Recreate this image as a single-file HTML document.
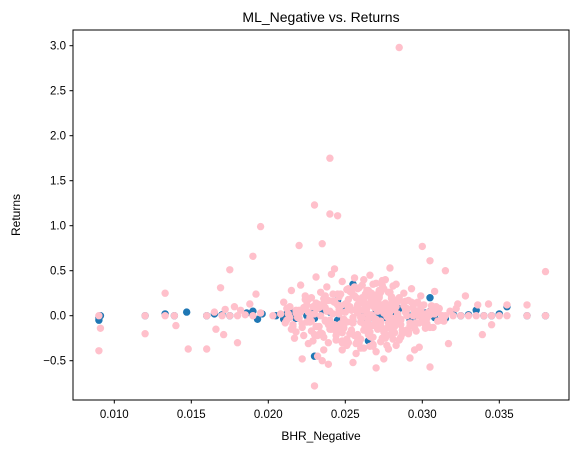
<!DOCTYPE html>
<html><head><meta charset="utf-8"><style>
html,body{margin:0;padding:0;background:#fff;}
svg{display:block;font-family:"Liberation Sans","DejaVu Sans",sans-serif;}
</style></head><body>
<svg id="chart" width="579" height="453">
<text x="321" y="22" font-size="14" text-anchor="middle">ML_Negative vs. Returns</text>
<text x="321" y="440" font-size="12" text-anchor="middle">BHR_Negative</text>
<text transform="translate(20,215) rotate(-90)" font-size="12" text-anchor="middle">Returns</text>
<g id="marks"></g>
<g id="axes"></g>
</svg>
<script>
const xTicks=[0.010,0.015,0.020,0.025,0.030,0.035];
const xTickLabels=["0.010","0.015","0.020","0.025","0.030","0.035"];
const yTicks=[-0.5,0.0,0.5,1.0,1.5,2.0,2.5,3.0];
const yTickLabels=["\u22120.5","0.0","0.5","1.0","1.5","2.0","2.5","3.0"];
const blueX=[0.009,0.009,0.0091,0.012,0.0133,0.0139,0.0147,0.016,0.0165,0.017,0.0175,0.0186,0.019,0.0193,0.0196,0.0205,0.021,0.0215,0.022,0.0225,0.023,0.0235,0.024,0.0245,0.0245,0.025,0.0255,0.0255,0.026,0.0265,0.027,0.0275,0.028,0.0285,0.029,0.0295,0.03,0.0305,0.0305,0.031,0.0315,0.032,0.0325,0.033,0.0335,0.034,0.0345,0.035,0.0355,0.0368,0.038,0.023,0.0265,0.0285,0.0212,0.0218,0.0228,0.0262,0.0272,0.0292,0.0302,0.0308];
const blueY=[-0.05,-0.02,0.0,0.0,0.02,0.0,0.04,0.0,0.02,0.01,0.0,0.03,0.05,-0.04,0.02,0.0,-0.04,0.03,0.05,0.0,-0.03,0.06,0.04,0.17,-0.05,0.05,0.35,-0.06,0.03,-0.04,0.06,-0.02,0.04,-0.05,0.03,0.0,-0.06,0.2,0.05,0.04,-0.03,0.02,0.0,0.01,0.06,0.0,0.0,0.02,0.1,0.0,0.0,-0.45,-0.28,0.08,0.02,-0.03,0.03,-0.02,0.02,-0.04,0.03,-0.02];
const pinkX=[0.0285,0.024,0.024,0.023,0.0245,0.0195,0.022,0.0235,0.03,0.019,0.0175,0.0133,0.038,0.0305,0.0315,0.009,0.009,0.0091,0.012,0.014,0.0148,0.016,0.023,0.027,0.0305,0.0222,0.0232,0.0235,0.0239,0.0255,0.0275,0.0295,0.0298,0.0292,0.0339,0.0345,0.0317,0.018,0.0171,0.0166,
0.012,0.0133,0.0139,0.016,0.0165,0.017,0.0175,0.018,0.0185,0.019,0.0195,0.0315,0.032,0.0325,0.033,0.0335,0.034,0.0345,0.035,0.0355,0.0368,0.038,0.0368,0.0355,0.0343,0.0328,0.0323,0.0311,0.0336,0.0169,0.0188,0.0192,0.0203,0.0178,0.0172,0.0182,
0.021,0.0212,0.0215,0.0218,0.022,0.0221,0.0223,0.0225,0.0226,0.0228,0.023,0.0231,0.0233,0.0234,0.0236,0.0237,0.0238,0.024,0.0241,0.0243,0.0244,0.0246,0.0247,0.0248,0.025,0.0251,0.0252,0.0253,0.0254,0.0256,0.0257,0.0258,0.0259,0.026,0.0261,0.0262,0.0263,0.0264,0.0265,0.0266,0.0267,0.0268,0.0269,0.027,0.0271,0.0272,0.0273,0.0274,0.0276,0.0277,0.0278,0.0279,0.028,0.0281,0.0282,0.0283,0.0285,0.0286,0.0288,0.029,0.0291,0.0293,0.0295,0.0297,0.0299,0.0301,0.0303,0.0306,0.0308,0.031,
0.0211,0.0214,0.0217,0.0219,0.0222,0.0224,0.0227,0.0229,0.0232,0.0234,0.0236,0.0239,0.0242,0.0244,0.0247,0.0249,0.0251,0.0253,0.0255,0.0257,0.0259,0.0261,0.0263,0.0265,0.0267,0.0269,0.0271,0.0273,0.0275,0.0277,0.0279,0.0281,0.0283,0.0285,0.0287,0.0289,0.0292,0.0294,0.0296,0.0298,0.0302,0.0305,0.0307,0.0309,0.0312,
0.0213,0.0216,0.022,0.0224,0.0228,0.0231,0.0235,0.0238,0.0241,0.0245,0.0248,0.0251,0.0254,0.0256,0.0259,0.0262,0.0264,0.0266,0.0268,0.027,0.0272,0.0274,0.0276,0.0278,0.028,0.0282,0.0284,0.0287,0.029,0.0293,0.0296,0.03,0.0304,0.0308,
0.0215,0.0219,0.0223,0.0227,0.0231,0.0234,0.0237,0.024,0.0243,0.0246,0.0249,0.0252,0.0255,0.0258,0.026,0.0263,0.0265,0.0267,0.0269,0.0271,0.0273,0.0275,0.0277,0.0279,0.0281,0.0284,0.0286,0.0289,0.0292,0.0295,0.0299,0.0303,
0.0208,0.0218,0.0226,0.0233,0.0242,0.0248,0.0254,0.026,0.0264,0.0268,0.0272,0.0276,0.028,0.0285,0.029,0.0297,0.0304,0.0243,0.0257,0.0262,0.027,0.0274,0.0279,0.0252,0.0266,0.0258,0.0269,0.0247,0.0237,0.0283,
0.0212,0.0216,0.0221,0.0225,0.0229,0.0232,0.0236,0.0239,0.0242,0.0244,0.0246,0.0248,0.025,0.0252,0.0253,0.0255,0.0257,0.0258,0.026,0.0261,0.0263,0.0264,0.0266,0.0267,0.0268,0.027,0.0271,0.0273,0.0274,0.0276,0.0277,0.0279,0.028,0.0282,0.0284,0.0286,0.0288,0.029,0.0293,0.0296,0.0299,0.0302,0.0306,0.031,0.0314,0.0318,0.0322,
0.0214,0.0218,0.0222,0.0226,0.023,0.0233,0.0237,0.024,0.0243,0.0245,0.0247,0.0249,0.0251,0.0254,0.0256,0.0259,0.0262,0.0265,0.0267,0.0269,0.0272,0.0275,0.0278,0.0281,0.0283,0.0286,0.0289,0.0291,0.0294,0.0298,0.0301,0.0305,0.0309,0.0313,
0.0224,0.0228,0.0232,0.0236,0.0239,0.0242,0.0245,0.0248,0.0251,0.0253,0.0256,0.0258,0.0261,0.0263,0.0265,0.0268,0.027,0.0272,0.0275,0.0277,0.0279,0.0282,0.0285,0.0288,0.0291,0.0295,0.0299,0.0303,
0.0246,0.0249,0.0252,0.0255,0.0258,0.0261,0.0264,0.0267,0.027,0.0273,0.0276,0.0279,0.0282,0.0285,0.0254,0.0262,0.0268,0.0274,0.0248,0.0278];
const pinkY=[2.98,1.75,1.13,1.23,1.11,0.99,0.78,0.8,0.77,0.66,0.51,0.25,0.49,0.61,0.5,0.0,-0.39,-0.14,-0.2,-0.11,-0.37,-0.37,-0.78,-0.58,-0.57,-0.48,-0.45,-0.5,-0.54,-0.52,-0.48,-0.38,-0.35,-0.47,-0.21,-0.1,-0.31,-0.3,-0.21,-0.15,
0.0,0.0,0.0,0.0,0.04,0.0,0.0,0.0,0.01,0.0,0.03,0.0,0.0,0.0,0.0,0.0,0.0,0.0,0.0,0.0,0.0,0.0,0.12,0.12,0.13,0.22,0.13,0.08,0.12,0.31,0.13,0.24,0.0,0.1,0.07,0.06,
0.15,-0.05,0.28,-0.18,0.06,0.34,-0.22,0.12,-0.31,0.2,0.02,0.43,-0.12,0.26,-0.38,0.09,0.32,-0.05,0.46,0.15,-0.27,0.21,-0.09,0.38,0.04,-0.33,0.18,0.27,-0.16,0.42,0.07,-0.21,0.31,-0.02,0.14,-0.36,0.24,0.03,-0.11,0.45,0.19,-0.24,0.09,0.36,-0.07,0.22,-0.29,0.12,0.4,-0.14,0.26,0.05,-0.2,0.33,0.1,-0.33,0.17,-0.04,0.25,0.08,-0.18,0.3,-0.09,0.15,0.22,0.02,-0.12,0.11,0.27,-0.06,
-0.08,0.1,-0.25,0.05,-0.13,0.18,-0.02,-0.28,0.08,-0.19,0.14,-0.3,0.02,-0.22,0.11,-0.14,-0.26,0.1,-0.08,0.2,-0.3,0.06,-0.16,0.13,-0.24,-0.03,0.16,-0.12,0.07,-0.22,0.04,-0.15,0.13,-0.07,-0.2,0.08,-0.11,0.0,-0.17,0.06,-0.1,0.01,-0.13,0.09,-0.05,
0.02,-0.1,-0.03,0.08,-0.17,0.14,-0.2,0.05,-0.15,0.12,-0.19,-0.07,0.06,-0.22,0.16,-0.09,0.03,-0.18,0.11,-0.04,0.09,-0.14,0.04,-0.08,0.13,-0.12,0.02,-0.16,0.06,-0.1,0.14,-0.06,0.04,0.02,
-0.15,-0.02,0.09,-0.07,-0.12,0.0,-0.06,0.05,-0.1,0.02,-0.13,0.07,-0.02,0.03,-0.07,0.1,-0.04,0.01,-0.09,0.05,-0.06,0.03,-0.01,0.07,-0.03,0.0,-0.05,0.04,-0.08,0.05,0.0,-0.03,
0.02,0.06,0.04,0.12,0.16,-0.1,0.26,-0.36,0.22,-0.32,0.28,-0.25,0.19,-0.27,0.0,0.0,0.0,0.52,-0.42,0.4,-0.4,0.39,0.53,-0.3,-0.34,0.3,0.12,-0.12,0.22,0.35,
0.08,-0.12,0.04,-0.07,0.1,-0.22,0.19,-0.1,0.24,-0.17,0.07,-0.28,0.13,0.3,-0.2,0.23,-0.31,0.11,-0.26,0.34,-0.13,0.28,-0.23,0.17,-0.34,0.2,-0.15,0.26,-0.25,0.14,-0.33,0.09,0.21,-0.19,0.18,-0.24,0.11,-0.16,0.15,-0.08,0.07,-0.14,0.06,0.04,-0.06,0.05,0.08,
-0.02,0.03,-0.09,0.18,-0.21,0.09,-0.05,-0.15,0.16,-0.11,0.24,-0.04,0.29,-0.07,0.22,-0.27,0.18,-0.21,0.25,-0.11,0.2,-0.18,0.12,-0.26,0.1,-0.1,0.16,-0.2,0.09,-0.08,0.12,-0.13,0.1,0.0,
0.22,-0.06,0.13,-0.24,0.17,-0.1,0.24,-0.3,0.14,-0.2,0.32,-0.28,0.2,-0.16,0.28,-0.32,0.23,-0.12,0.3,-0.22,0.26,-0.08,0.2,-0.18,0.17,-0.14,0.11,-0.09,
0.06,-0.04,0.1,-0.06,0.12,-0.02,0.08,-0.11,0.14,-0.08,0.03,-0.13,0.07,-0.05,-0.18,-0.16,0.35,0.34,-0.38,-0.37];
const X0=0.010,XPX0=114.3,XS=15400,Y0PX=315.7,YS=90;
function xs(v){return XPX0+(v-X0)*XS;}
function ys(v){return Y0PX-v*YS;}
const NS='http://www.w3.org/2000/svg';
const marks=document.getElementById('marks');
const axes=document.getElementById('axes');
for(let i=0;i<blueX.length;i++){
  const c=document.createElementNS(NS,'circle');
  c.setAttribute('cx',xs(blueX[i]));c.setAttribute('cy',ys(blueY[i]));c.setAttribute('r',3.7);c.setAttribute('fill','#1f77b4');
  
  
  marks.appendChild(c);
}
for(let i=0;i<pinkX.length;i++){
  const c=document.createElementNS(NS,'circle');
  c.setAttribute('cx',xs(pinkX[i]));c.setAttribute('cy',ys(pinkY[i]));c.setAttribute('r',3.7);c.setAttribute('fill','#ffc0cb');
  
  
  marks.appendChild(c);
}
const frame=document.createElementNS(NS,'rect');
frame.setAttribute('x',73);frame.setAttribute('y',30);frame.setAttribute('width',496);frame.setAttribute('height',370);
frame.setAttribute('fill','none');frame.setAttribute('stroke','#000');frame.setAttribute('stroke-width',1);


axes.appendChild(frame);
xTicks.forEach((t,i)=>{
  const x=xs(t);
  const l=document.createElementNS(NS,'line');
  l.setAttribute('x1',x);l.setAttribute('x2',x);l.setAttribute('y1',400);l.setAttribute('y2',403.5);l.setAttribute('stroke','#000');
  
  
  axes.appendChild(l);
  const tx=document.createElementNS(NS,'text');
  tx.setAttribute('x',x);tx.setAttribute('y',418);tx.setAttribute('font-size','11.5');tx.setAttribute('text-anchor','middle');
  tx.textContent=xTickLabels[i];
  
  
  axes.appendChild(tx);
});
yTicks.forEach((t,i)=>{
  const y=ys(t);
  const l=document.createElementNS(NS,'line');
  l.setAttribute('x1',69.5);l.setAttribute('x2',73);l.setAttribute('y1',y);l.setAttribute('y2',y);l.setAttribute('stroke','#000');
  
  
  axes.appendChild(l);
  const tx=document.createElementNS(NS,'text');
  tx.setAttribute('x',66);tx.setAttribute('y',y+4);tx.setAttribute('font-size','11.5');tx.setAttribute('text-anchor','end');
  tx.textContent=yTickLabels[i];
  
  
  axes.appendChild(tx);
});
</script>
</body></html>
